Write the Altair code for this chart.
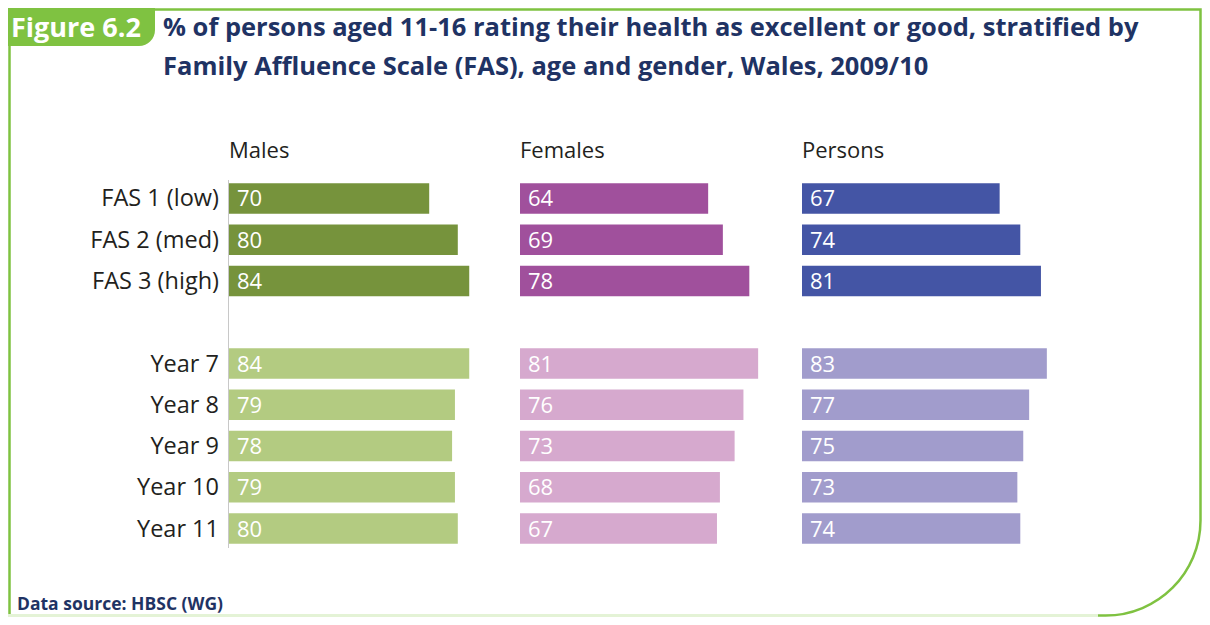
import altair as alt
import pandas as pd

# ---- data ----
categories = ["FAS 1 (low)", "FAS 2 (med)", "FAS 3 (high)",
              "Year 7", "Year 8", "Year 9", "Year 10", "Year 11"]
row_groups = ["FAS", "FAS", "FAS", "Year", "Year", "Year", "Year", "Year"]
males = [70, 80, 84, 84, 79, 78, 79, 80]
females = [64, 69, 78, 81, 76, 73, 68, 67]
persons = [67, 74, 81, 83, 77, 75, 73, 74]
panel_names = ["Males", "Females", "Persons"]

title_line1 = "% of persons aged 11-16 rating their health as excellent or good, stratified by"
title_line2 = "Family Affluence Scale (FAS), age and gender, Wales, 2009/10"
figure_label = "Figure 6.2"
source_text = "Data source: HBSC (WG)"

# ---- styles / layout ----
FONT = "Open Sans"
GREEN = "#7fc241"
NAVY = "#1f3364"
TEXT = "#231f20"
panel_colors = {
    "Males": ["#76933c", "#b3cb81"],
    "Females": ["#a0509c", "#d6a9ce"],
    "Persons": ["#4455a5", "#a19ccc"],
}
panel_ranges = {
    "Males": [221, 507],
    "Females": [512, 806],
    "Persons": [794, 1089],
}
y_domain = categories[:3] + [" "] + categories[3:]
y_scale = alt.Scale(domain=y_domain, range=[175.3, 535.7], paddingInner=0.265, paddingOuter=0)

one = pd.DataFrame({"a": [0]})


def panel(name, values):
    df = pd.DataFrame({"category": categories, "value": values, "group": row_groups})
    xs = alt.Scale(domain=[0, 100], range=panel_ranges[name])
    base = alt.Chart(df)
    bars = base.mark_bar(cornerRadius=0).encode(
        x=alt.X("value:Q", scale=xs, axis=None),
        y=alt.Y("category:N", scale=y_scale, axis=None),
        color=alt.Color("group:N", scale=alt.Scale(domain=["FAS", "Year"], range=panel_colors[name]), legend=None),
    )
    vals = base.mark_text(align="left", baseline="middle", dx=8, dy=1, color="white",
                          fontSize=22, font=FONT).encode(
        x=alt.datum(0),
        y=alt.Y("category:N", scale=y_scale, axis=None),
        text="value:Q",
    )
    header = alt.Chart(pd.DataFrame({"t": [name]})).mark_text(
        align="left", baseline="alphabetic", fontSize=22, font=FONT, color=TEXT
    ).encode(x=alt.datum(0), y=alt.value(150), text="t:N")
    return alt.layer(bars, vals, header)


border = alt.Chart(one).mark_rect(fillOpacity=0, stroke=GREEN, strokeWidth=2.5,
                                  cornerRadiusBottomRight=95).encode(
    x=alt.value(1.5), x2=alt.value(1192.5), y=alt.value(1.5), y2=alt.value(607.5))
faint = alt.Chart(one).mark_rule(color="#e4f3d6", strokeWidth=3).encode(
    x=alt.value(0), x2=alt.value(1090), y=alt.value(607.5))
box = alt.Chart(one).mark_rect(color=GREEN, cornerRadiusBottomRight=16).encode(
    x=alt.value(0), x2=alt.value(147), y=alt.value(0), y2=alt.value(38))
fig_text = alt.Chart(one).mark_text(text=figure_label, align="left", baseline="alphabetic",
                                    font=FONT, fontWeight="bold", fontSize=27, color="white").encode(
    x=alt.value(3), y=alt.value(29))
t1 = alt.Chart(one).mark_text(text=title_line1, align="left", baseline="alphabetic",
                              font=FONT, fontWeight="bold", fontSize=25.5, color=NAVY).encode(
    x=alt.value(155), y=alt.value(28))
t2 = alt.Chart(one).mark_text(text=title_line2, align="left", baseline="alphabetic",
                              font=FONT, fontWeight="bold", fontSize=25.5, color=NAVY).encode(
    x=alt.value(155), y=alt.value(67))
src = alt.Chart(one).mark_text(text=source_text, align="left", baseline="alphabetic",
                               font=FONT, fontWeight="bold", fontSize=17.5, color=NAVY).encode(
    x=alt.value(9), y=alt.value(602))
axis_line = alt.Chart(one).mark_rule(color="#c8c8c8", strokeWidth=1).encode(
    x=alt.value(220.5), y=alt.value(172), y2=alt.value(540))

cat_df = pd.DataFrame({"category": categories})
cat_labels = alt.Chart(cat_df).mark_text(align="right", baseline="middle", dy=1, fontSize=23.5,
                                         font=FONT, color=TEXT).encode(
    x=alt.value(211), y=alt.Y("category:N", scale=y_scale, axis=None), text="category:N")

chart = alt.layer(
    border, faint, box, fig_text, t1, t2, src, axis_line,
    panel("Males", males), panel("Females", females), panel("Persons", persons),
    cat_labels,
).resolve_scale(x="independent", color="independent").properties(
    width=1194, height=609, autosize=alt.AutoSizeParams(type="none"), padding=0
).configure_view(strokeWidth=0)

chart.save("out.html", embed_options={"renderer": "svg", "actions": False})
